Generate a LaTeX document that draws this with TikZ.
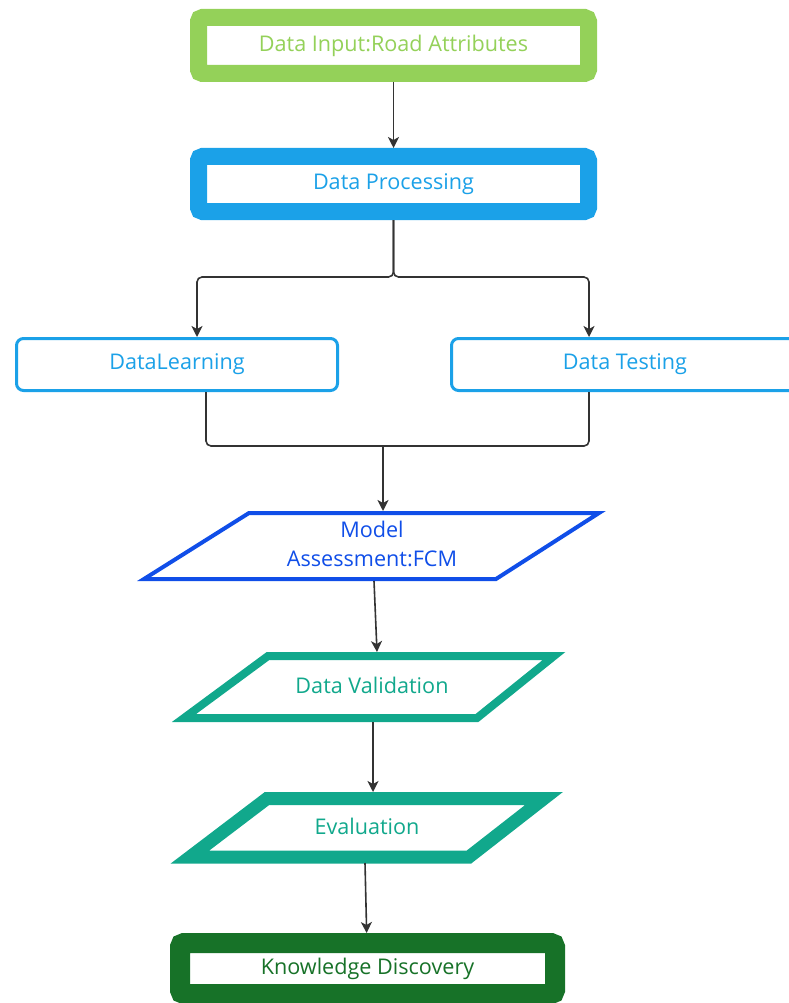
\documentclass[tikz,border=0pt]{standalone}
\usepackage{fontspec}
\setmainfont{Open Sans}
\usepackage{tikz}
\usetikzlibrary{arrows.meta, calc}
\definecolor{leafgreen}{RGB}{148,209,89}
\definecolor{skyblue}{RGB}{27,161,232}
\definecolor{royalblue}{RGB}{16,78,232}
\definecolor{seateal}{RGB}{17,168,140}
\definecolor{forestgreen}{RGB}{23,114,40}
\definecolor{wire}{RGB}{51,51,51}
\tikzset{
  thickbox/.style={
    draw=#1, text=#1, fill=white,
    line width=17pt, rounded corners=4pt,
    minimum width=390pt, minimum height=56pt
  },
  thinbox/.style={
    draw=skyblue, text=skyblue, fill=white,
    line width=3pt, rounded corners=7pt,
    minimum height=52pt
  },
  flow/.style={
    draw=wire, line width=1.6pt,
    -{Stealth[length=11pt, width=11pt, inset=3pt]}
  },
  wireline/.style={
    draw=wire, line width=1.6pt, rounded corners=5pt
  }
}
\begin{document}
\begin{tikzpicture}[x=1pt, y=-1pt, every node/.style={font=\fontsize{21.6}{29}\selectfont, align=center}]
\useasboundingbox (0,0) rectangle (789,1003);
\newcommand\XMid{393.5}
\node[thickbox=leafgreen] (DI) at (\XMid,45.5) {Data Input:Road Attributes};
\node[thickbox=skyblue, minimum height=55pt] (DP) at (\XMid,184) {Data Processing};
\node[thinbox, minimum width=321pt] (DL) at (177,364.5) {DataLearning};
\node[thinbox, minimum width=347pt] (DT) at (625,364.5) {Data Testing};

\draw[royalblue, line width=4pt] (249,513) -- (599,513) -- (496,579) -- (144,579) -- cycle;
\node[text=royalblue] (MA) at (372,544) {Model\\Assessment:FCM};
\draw[seateal, line width=8pt] (268,656) -- (554,656) -- (477,718) -- (184,718) -- cycle;
\node[text=seateal] (DV) at (372,685) {Data Validation};
\draw[seateal, line width=13pt] (267,798.5) -- (544,798.5) -- (469,857) -- (190,857) -- cycle;
\node[text=seateal] (EV) at (367,826) {Evaluation};
\node[draw=forestgreen, text=forestgreen, fill=white, line width=20pt, rounded corners=4pt,
      minimum width=375pt, minimum height=51pt] (KD) at (367.5,968.5) {Knowledge Discovery};

\coordinate (split) at (\XMid,277);
\coordinate (join) at (383,446);
\coordinate (MAtop) at (383,511);
\coordinate (MAbot) at (374,581);
\coordinate (DVtop) at (377,652);
\coordinate (DVbot) at (373,722);
\coordinate (EVtop) at (373,792);
\coordinate (EVbot) at (365,863);

\draw[flow] (DI) -- (DP);
\draw[wireline, flow] (DP.south) -- (split) -| ([xshift=20pt]DL.north);
\draw[wireline, flow] (DP.south) -- (split) -| ([xshift=-36pt]DT.north);
\draw[wireline] ([xshift=29pt]DL.south) |- (join);
\draw[wireline] ([xshift=-36pt]DT.south) |- (join);
\draw[flow, line width=2.2pt] (join) -- (MAtop);
\draw[flow] (MAbot) -- (DVtop);
\draw[flow] (DVbot) -- (EVtop);
\draw[flow] (EVbot) -- (KD);
\end{tikzpicture}
\end{document}
